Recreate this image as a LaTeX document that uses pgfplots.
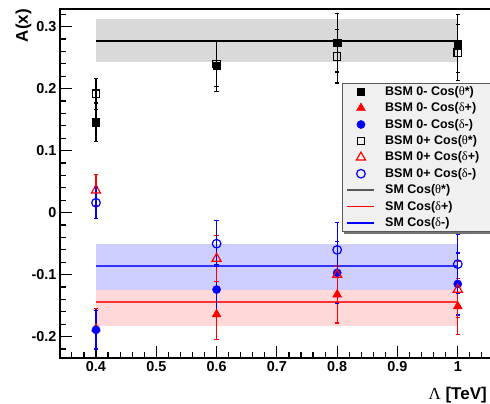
\documentclass[border=0pt]{standalone}
\usepackage{pgfplots}
\pgfplotsset{compat=1.18}
\usepackage{fontspec}
\setmainfont{Liberation Sans}
\newfontfamily\symf{Liberation Serif}

\pgfplotsset{
  pts/.style={only marks,
    error bars/y dir=both, error bars/y explicit,
    error bars/error bar style={line width=1.3pt},
    error bars/error mark options={rotate=90, mark size=2.2pt, line width=1.2pt}},
}

\begin{document}
\begin{tikzpicture}
\begin{axis}[
  scale only axis,
  width=431pt, height=349pt,
  xmin=0.3403, xmax=1.0551,
  ymin=-0.2344, ymax=0.3285,
  axis line style={line width=1.6pt},
  tick align=inside,
  xtick pos=bottom, ytick pos=left,
  xtick={0.4,0.5,0.6,0.7,0.8,0.9,1.0},
  xticklabels={0.4,0.5,0.6,0.7,0.8,0.9,1},
  ytick={-0.2,-0.1,0,0.1,0.2,0.3},
  yticklabels={-0.2,-0.1,0,0.1,0.2,0.3},
  minor xtick={0.34,0.36,...,1.06},
  minor ytick={-0.22,-0.20,...,0.33},
  major tick length=12pt,
  minor tick length=6pt,
  every tick/.style={black, line width=1.2pt},
  tick label style={font=\bfseries\fontsize{14.4}{16}\selectfont},
  xlabel={{\symf\mdseries Λ} [TeV]},
  ylabel={A(x)},
  every axis x label/.style={at={(rel axis cs:1,0)}, anchor=base east,
    yshift=-41pt, xshift=-4pt, inner sep=0pt,
    font=\bfseries\fontsize{17}{20}\selectfont},
  every axis y label/.style={at={(rel axis cs:0,1)}, xshift=-36.5pt,
    rotate=90, anchor=east, inner sep=0pt,
    font=\bfseries\fontsize{17}{20}\selectfont},
  legend image code/.code={\draw[mark repeat=2, mark phase=2, #1]
    plot coordinates {(0pt,0pt) (13.5pt,0pt) (27pt,0pt)};},
  legend cell align=left,
  legend style={at={(axis cs:0.8158,0.2083)}, anchor=north west,
    draw=none, fill=none, inner sep=0pt, outer sep=0pt,
    row sep=0pt, column sep=7.8pt,
    font=\bfseries\fontsize{12.5}{14}\selectfont,
    nodes={inner sep=2.2pt, text height=9.5pt, text depth=2.5pt}},
]

% SM bands
\addplot[draw=none, fill=black!15, forget plot]
  coordinates {(0.4,0.243) (1.0,0.243) (1.0,0.313) (0.4,0.313)} -- cycle;
\addplot[draw=none, fill=blue!19, forget plot]
  coordinates {(0.4,-0.125) (1.0,-0.125) (1.0,-0.050) (0.4,-0.050)} -- cycle;
\addplot[draw=none, fill=red!15, forget plot]
  coordinates {(0.4,-0.182) (1.0,-0.182) (1.0,-0.125) (0.4,-0.125)} -- cycle;

% SM central values
\addplot[black, line width=1.2pt, forget plot] coordinates {(0.4,0.277) (1.0,0.277)};
\addplot[blue!80, line width=1.3pt, forget plot] coordinates {(0.4,-0.086) (1.0,-0.086)};
\addplot[red!80, line width=1.3pt, forget plot] coordinates {(0.4,-0.144) (1.0,-0.144)};

% BSM 0-
\addplot[pts, black, mark=square*, mark size=3.7pt] coordinates {
  (0.4,0.146) +- (0,0.031)
  (0.6,0.237) +- (0,0.041)
  (0.8,0.274) +- (0,0.047)
  (1.0,0.273) +- (0,0.047)
};
\addlegendentry{BSM 0- Cos({\symf\mdseries θ}*)}
\addplot[pts, red, mark=triangle*, mark size=5.2pt] coordinates {
  (0.4,-0.187) +- (0,0.032)
  (0.6,-0.164) +- (0,0.040)
  (0.8,-0.132) +- (0,0.046)
  (1.0,-0.151) +- (0,0.045)
};
\addlegendentry{BSM 0- Cos({\symf\mdseries δ}+)}
\addplot[pts, blue, mark=*, mark size=4.1pt] coordinates {
  (0.4,-0.189) +- (0,0.031)
  (0.6,-0.124) +- (0,0.040)
  (0.8,-0.097) +- (0,0.050)
  (1.0,-0.115) +- (0,0.050)
};
\addlegendentry{BSM 0- Cos({\symf\mdseries δ}-)}

% BSM 0+
\addplot[pts, black, mark=square, mark size=3.7pt, mark options={line width=1.2pt}] coordinates {
  (0.4,0.192) +- (0,0.025)
  (0.6,0.240) +- (0,0.036)
  (0.8,0.252) +- (0,0.043)
  (1.0,0.258) +- (0,0.045)
};
\addlegendentry{BSM 0+ Cos({\symf\mdseries θ}*)}
\addplot[pts, red, mark=triangle, mark size=5.2pt, mark options={line width=1.2pt}] coordinates {
  (0.4,0.036) +- (0,0.025)
  (0.6,-0.074) +- (0,0.037)
  (0.8,-0.100) +- (0,0.045)
  (1.0,-0.124) +- (0,0.045)
};
\addlegendentry{BSM 0+ Cos({\symf\mdseries δ}+)}
\addplot[pts, blue, mark=o, mark size=4.3pt, mark options={line width=1.2pt}] coordinates {
  (0.4,0.016) +- (0,0.026)
  (0.6,-0.050) +- (0,0.037)
  (0.8,-0.060) +- (0,0.044)
  (1.0,-0.083) +- (0,0.048)
};
\addlegendentry{BSM 0+ Cos({\symf\mdseries δ}-)}

\addlegendimage{black!65, line width=1.5pt}
\addlegendentry{SM Cos({\symf\mdseries θ}*)}
\addlegendimage{red, line width=1.5pt}
\addlegendentry{SM Cos({\symf\mdseries δ}+)}
\addlegendimage{blue, line width=1.5pt}
\addlegendentry{SM Cos({\symf\mdseries δ}-)}

% legend frame
\fill[black!55] ([shift={(2pt,-2.5pt)}]axis cs:0.808,0.2087) rectangle ([shift={(2pt,-2.5pt)}]axis cs:1.2,-0.0296);
\filldraw[fill=black!6, draw=black!65, line width=1pt] (axis cs:0.808,0.2087) rectangle (axis cs:1.2,-0.0296);

\coordinate (sw) at (rel axis cs:0,0);
\coordinate (ne) at (rel axis cs:1,1);
\end{axis}
\pgfresetboundingbox
\useasboundingbox ([shift={(-60pt,-45pt)}]sw) rectangle ([shift={(-1pt,9pt)}]ne);
\end{tikzpicture}
\end{document}
